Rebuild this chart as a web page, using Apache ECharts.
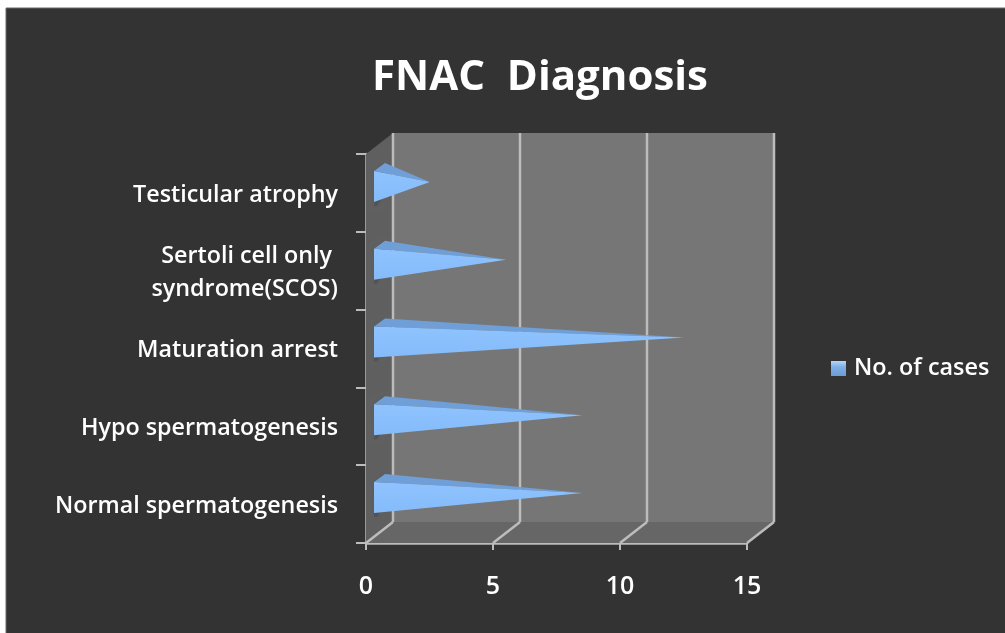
<!DOCTYPE html>
<html>
<head>
<meta charset="utf-8">
<title>FNAC Diagnosis</title>
<script src="https://cdn.jsdelivr.net/npm/echarts@6/dist/echarts.min.js"></script>
<style>
  html, body { margin: 0; padding: 0; background: #fff; }
  #chart { width: 1005px; height: 633px; }
</style>
</head>
<body>
<div id="chart"></div>
<script>
// bottom to top, same order as the y axis
const categories = [
  "Normal spermatogenesis",
  "Hypo spermatogenesis",
  "Maturation arrest",
  "Sertoli cell only \nsyndrome(SCOS)",
  "Testicular atrophy",
];
const cases = [8, 8, 12, 5, 2];
const xTicks = [0, 5, 10, 15];

const labelFont = '"Open Sans", sans-serif';
const lineColor = "#bcbcbc";
// how far the 3d box is pushed back
const depthX = 27;
const depthY = 21;

function poly(points, fill, extra) {
  return Object.assign({
    type: "polygon",
    shape: { points: points },
    style: { fill: fill },
  }, extra || {});
}

function line(a, b, width, color) {
  return {
    type: "line",
    shape: { x1: a[0], y1: a[1], x2: b[0], y2: b[1] },
    style: { stroke: color || lineColor, lineWidth: width || 2.5 },
  };
}

// the box: side wall, floor, back wall and gridlines
function renderWalls(params, api) {
  const r = params.coordSys;
  const left = r.x, right = r.x + r.width, top = r.y, bottom = r.y + r.height;
  const children = [
    poly([[left + depthX, top - depthY], [right + depthX, top - depthY], [right + depthX, bottom - depthY], [left + depthX, bottom - depthY]], "#767676"),
    poly([[left, top], [left + depthX, top - depthY], [left + depthX, bottom - depthY], [left, bottom]], "#5f5f5f"),
    poly([[left, bottom], [left + depthX, bottom - depthY], [right + depthX, bottom - depthY], [right, bottom]], "#666666"),
  ];
  xTicks.forEach(function (t) {
    const x = api.coord([t, 0])[0];
    children.push(line([x, bottom], [x + depthX, bottom - depthY]));
    children.push(line([x + depthX, bottom - depthY], [x + depthX, top - depthY]));
  });
  return { type: "group", children: children };
}

// a flattened cone lying on its side, tip at the value
function renderCone(params, api) {
  const zero = api.coord([0, api.value(1)]);
  const end = api.coord([api.value(0), api.value(1)]);
  const baseX = zero[0] + 8;
  const frontTop = [baseX, zero[1] - 22];
  const frontBottom = [baseX, zero[1] + 9];
  const backTop = [baseX + 11, zero[1] - 30];
  const tip = [end[0] + 13, end[1] - 11];
  const shade = "rgba(45,45,45,0.22)";
  return {
    type: "group",
    children: [
      poly([frontTop, backTop, [backTop[0], backTop[1] + 8], [baseX + 7, frontBottom[1] - 3], [baseX + 3, frontBottom[1] + 4], [baseX, frontBottom[1] + 4]], shade, {
        style: { fill: shade, shadowBlur: 5, shadowColor: shade },
      }),
      poly([frontTop, backTop, tip], "#6f9fd6"),
      poly([frontTop, tip, frontBottom], new echarts.graphic.LinearGradient(0, 0, 0, 1, [
        { offset: 0, color: "#8ec3ff" },
        { offset: 1, color: "#85bbf9" },
      ])),
    ],
  };
}

const chart = echarts.init(document.getElementById("chart"));
chart.setOption({
  animation: false,
  backgroundColor: "#ffffff",
  graphic: [
    {
      type: "rect",
      z: -10,
      shape: { x: 6, y: 8, width: 1010, height: 640 },
      style: { fill: "#333333", stroke: "#6a6a6a", lineWidth: 1 },
    },
  ],
  title: {
    text: "FNAC  Diagnosis",
    left: 535,
    top: 52,
    textAlign: "center",
    textStyle: {
      color: "#ffffff",
      fontFamily: labelFont,
      fontWeight: "bold",
      fontSize: 42,
    },
  },
  legend: {
    data: ["No. of cases"],
    left: 826,
    top: 352,
    icon: "rect",
    itemWidth: 15,
    itemHeight: 15,
    itemGap: 0,
    itemStyle: {
      color: new echarts.graphic.LinearGradient(0, 0, 0, 1, [
        { offset: 0, color: "#b5d8fb" },
        { offset: 0.4, color: "#7fafe6" },
        { offset: 1, color: "#6e9bd4" },
      ]),
    },
    textStyle: {
      color: "#ffffff",
      fontFamily: labelFont,
      fontWeight: 600,
      fontSize: 23.4,
      padding: [0, 0, 0, 3],
    },
  },
  grid: { left: 366, top: 154, width: 381, height: 389, containLabel: false },
  xAxis: {
    type: "value",
    min: 0,
    max: 15,
    interval: 5,
    splitLine: { show: false },
    axisLine: { show: true, lineStyle: { color: lineColor, width: 2.5 } },
    axisTick: { show: true, length: 7, lineStyle: { color: lineColor, width: 2 } },
    axisLabel: {
      color: "#ffffff",
      fontFamily: labelFont,
      fontWeight: 600,
      fontSize: 25,
      margin: 31,
    },
  },
  yAxis: {
    type: "category",
    data: categories,
    axisLine: { show: true, lineStyle: { color: lineColor, width: 2.5 } },
    axisTick: { show: true, length: 10, alignWithLabel: false, lineStyle: { color: lineColor, width: 2 } },
    axisLabel: {
      margin: 28,
      interval: 0,
      // rich padding nudges the text down a little, plain padding did not
      formatter: function (value) {
        return value.split("\n").map(function (s) { return "{a|" + s + "}"; }).join("\n");
      },
      rich: {
        a: {
          color: "#ffffff",
          fontFamily: labelFont,
          fontWeight: 600,
          fontSize: 23.3,
          lineHeight: 33,
          padding: [4, 0, 0, 0],
        },
      },
    },
  },
  series: [
    {
      name: "walls",
      type: "custom",
      silent: true,
      z: 1,
      renderItem: renderWalls,
      data: [[0, 0]],
      encode: { x: 0, y: 1 },
      clip: false,
    },
    {
      name: "No. of cases",
      type: "custom",
      z: 3,
      renderItem: renderCone,
      data: cases.map(function (v, i) { return [v, i]; }),
      encode: { x: 0, y: 1 },
      clip: false,
    },
  ],
});
</script>
</body>
</html>
